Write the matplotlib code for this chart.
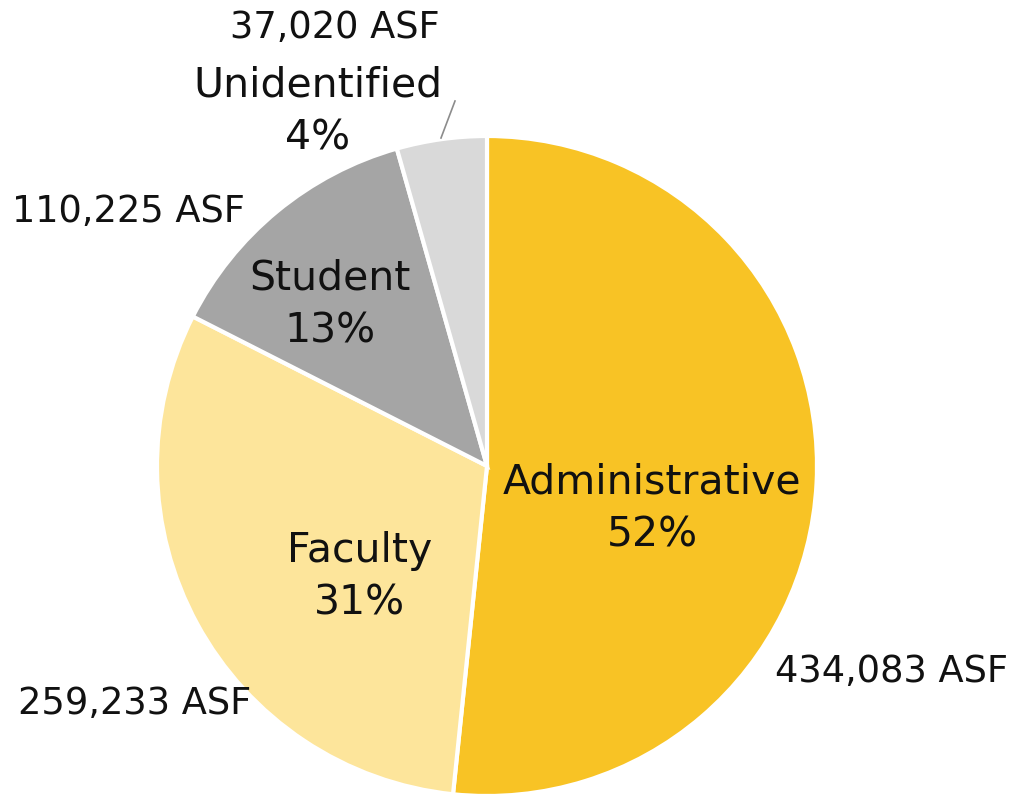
import matplotlib

matplotlib.use('Agg')

import matplotlib.pyplot as plt

# space by type, assignable square feet
categories = ['Administrative', 'Faculty', 'Student', 'Unidentified']
asf = [434083, 259233, 110225, 37020]
pct_labels = ['52%', '31%', '13%', '4%']
asf_labels = ['434,083 ASF', '259,233 ASF', '110,225 ASF', '37,020 ASF']
colors = ['#F8C325', '#FDE59B', '#A5A5A5', '#D9D9D9']

W, H = 1020, 794
plt.rcParams['font.family'] = ['DejaVu Sans']

fig = plt.figure(figsize=(W / 100, H / 100), dpi=100)
ax = fig.add_axes([0, 0, 1, 1])

cx, cy, r = 487, H - 466, 330
ax.pie(asf, colors=colors, startangle=90, counterclock=False,
       center=(cx, cy), radius=r, frame=True,
       wedgeprops=dict(edgecolor='white', linewidth=3))
ax.set_xlim(0, W)
ax.set_ylim(0, H)
ax.set_aspect('equal')
ax.axis('off')

# label positions in pixel coords (y from top)
name_pos = [(652, 509), (360, 577), (330, 305), (318, 112)]
asf_pos = [(892, 671), (135, 703), (128, 212), (335, 28)]

for name, pct, (x, y) in zip(categories, pct_labels, name_pos):
    ax.text(x, H - y, f'{name}\n{pct}', ha='center', va='center',
            fontsize=29.5, linespacing=1.4, color='#111111')
for lab, (x, y) in zip(asf_labels, asf_pos):
    ax.text(x, H - y, lab, ha='center', va='center', fontsize=26.5,
            color='#111111')

ax.plot([441, 455], [H - 138, H - 101], color='#8C8C8C', linewidth=1.2)

fig.savefig('out.png', dpi=100)
